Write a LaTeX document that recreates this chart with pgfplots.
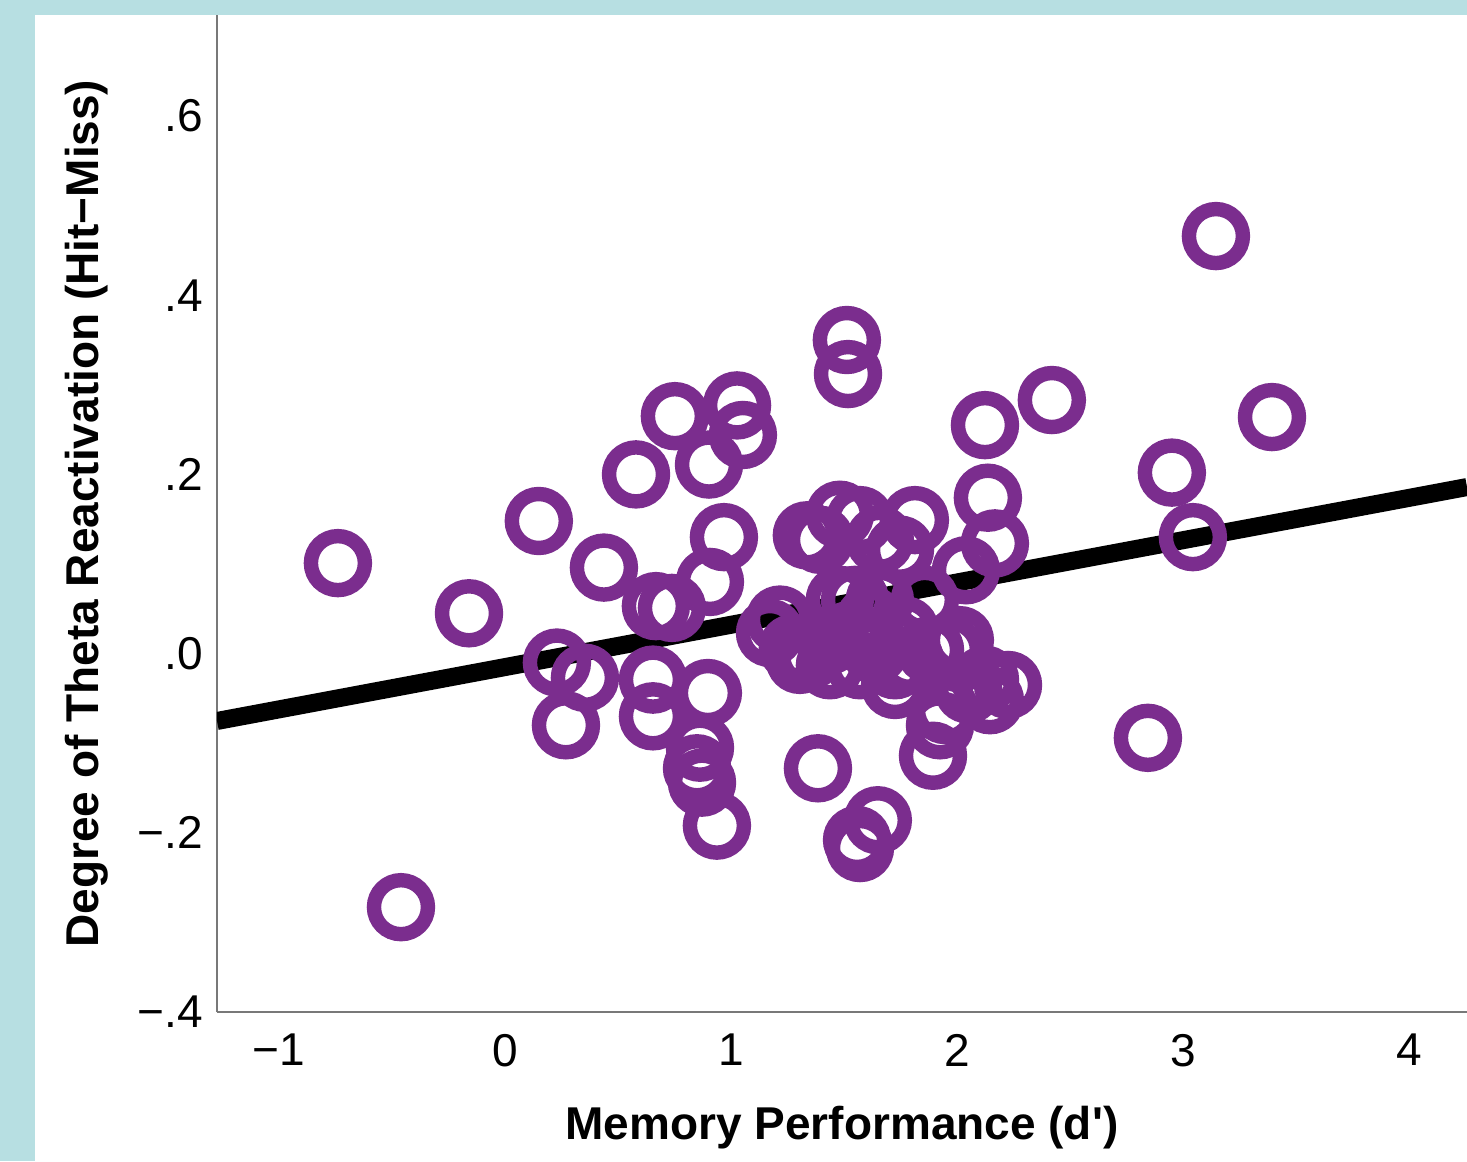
\documentclass[border=0pt]{standalone}
\usepackage{fontspec}
\setmainfont{Liberation Sans}
\usepackage{pgfplots}
\pgfplotsset{compat=1.18}

\definecolor{framebg}{RGB}{183,223,226}
\definecolor{dotpurple}{RGB}{123,45,142}
\definecolor{axisgray}{RGB}{120,120,120}

\begin{document}
\begin{tikzpicture}
% page background: teal strips on the left and top
\fill[framebg] (0,0) rectangle (366.75pt,290.25pt);
\fill[white] (8.75pt,0) rectangle (366.75pt,286.5pt);

\begin{axis}[
    at={(54.25pt,37.25pt)}, anchor=south west,
    scale only axis,
    width=312.5pt, height=249.25pt,
    axis x line*=bottom, axis y line*=left,
    axis line style={draw=axisgray, line width=0.6pt},
    xmin=-1.274, xmax=4.257,
    ymin=-0.4, ymax=0.7127,
    xtick={-1,0,1,2,3,4},
    xticklabels={−1,0,1,2,3,4},
    ytick={-0.4,-0.2,0,0.2,0.4,0.6},
    yticklabels={−.4,−.2,.0,.2,.4,.6},
    major tick length=0pt,
    tick label style={font=\fontsize{11.5}{13}\selectfont},
    xticklabel style={yshift=-2pt},
    xlabel={Memory Performance (d\textquotesingle)},
    ylabel={Degree of Theta Reactivation (Hit−Miss)},
    label style={font=\fontsize{11.5}{13}\selectfont\bfseries},
    xlabel style={at={(axis description cs:0.5,-0.1164)}, anchor=center},
    ylabel style={at={(axis description cs:-0.104,0.5)}, anchor=center},
]
\addplot[only marks, mark=o, mark size=6.75pt,
    mark options={draw=dotpurple, line width=3.6pt}] coordinates {
    (-0.739,0.101) (-0.460,-0.283) (-0.159,0.045) (0.150,0.148)
    (0.230,-0.010) (0.354,-0.027) (0.270,-0.080) (0.438,0.096)
    (0.580,0.200) (0.752,0.265) (0.668,0.053) (0.739,0.051)
    (0.655,-0.029) (0.655,-0.070) (0.907,0.080) (0.903,0.211)
    (0.969,0.130) (1.027,0.277) (1.053,0.244) (0.898,-0.044)
    (0.863,-0.105) (0.850,-0.128) (0.872,-0.144) (0.938,-0.192)
    (1.173,0.023) (1.274,0.006) (1.350,-0.002) (1.438,-0.013)
    (1.336,0.132) (1.385,-0.128) (1.513,0.350) (1.518,0.312)
    (1.482,0.155) (1.571,0.149) (1.659,0.127) (1.748,0.116)
    (1.549,0.060) (1.615,0.038) (1.527,0.021) (1.637,0.004)
    (1.726,-0.013) (1.726,-0.035) (1.814,0.149) (1.858,0.060)
    (1.881,0.004) (2.013,0.015) (2.040,0.093) (2.124,0.255)
    (2.137,0.174) (2.168,0.123) (2.124,-0.029) (2.226,-0.035)
    (2.146,-0.052) (1.947,-0.063) (1.925,-0.080) (1.894,-0.114)
    (2.420,0.283) (2.951,0.202) (3.044,0.130) (2.845,-0.094)
    (3.146,0.466) (3.394,0.264) (1.558,-0.208) (1.650,-0.186)
    (1.571,-0.217) (1.659,0.060) (1.770,0.026) (1.394,0.127)
    (1.217,0.038) (1.305,-0.007) (1.438,0.015) (1.571,-0.013)
    (1.792,-0.007) (1.969,0.004) (1.482,0.060) (2.050,-0.040)
};
\addplot[black, line width=4.5pt] coordinates {(-1.274,-0.0752) (4.257,0.1859)};
\end{axis}

\pgfresetboundingbox
\useasboundingbox (0,0) rectangle (366.75pt,290.25pt);
\end{tikzpicture}
\end{document}
